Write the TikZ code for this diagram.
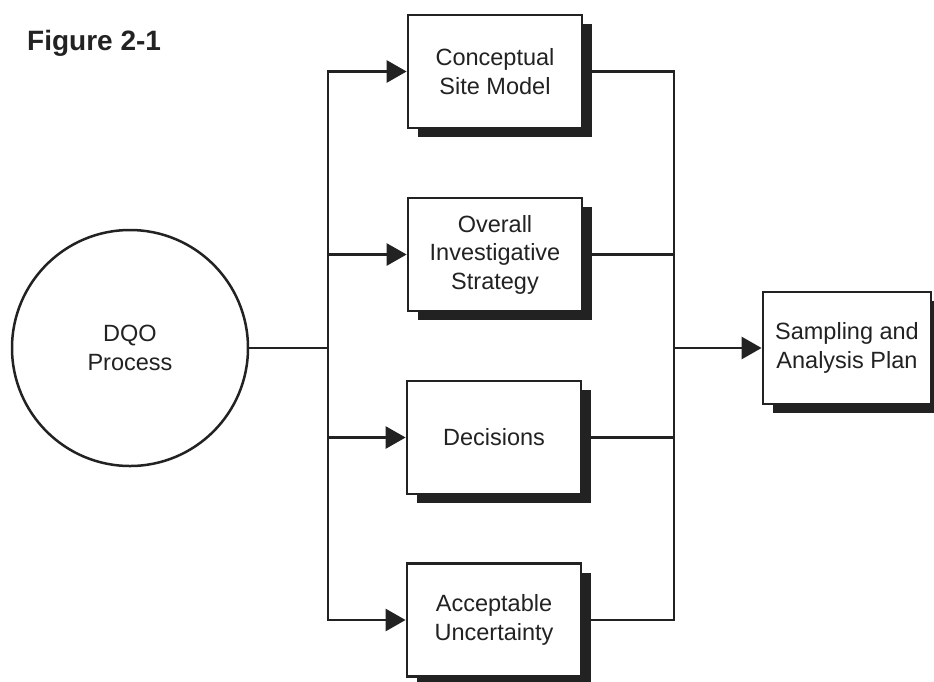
\documentclass[tikz,border=0pt]{standalone}
\usepackage{fontspec}
\setmainfont{Liberation Sans}
\usetikzlibrary{arrows.meta,shadows}
\definecolor{ink}{HTML}{222222}
\begin{document}
\begin{tikzpicture}[x=1pt,y=-1pt,
  every node/.style={text=ink},
  wire/.style={draw=ink,line width=2.8pt},
  feed/.style={wire,-{Triangle[length=20pt,width=22pt]}},
  boxtext/.style={align=center,font=\fontsize{23.5}{28.5}\selectfont},
  stage/.style={boxtext,draw=ink,fill=white,line width=2.8pt,
    minimum width=174pt,minimum height=113pt,inner sep=0pt,
    general shadow={fill=ink,shadow xshift=10pt,shadow yshift=-9pt}},
  plan/.style={stage,minimum width=168pt,minimum height=112pt}]

  \clip (0,0) rectangle (934,681);
  \fill[white] (0,0) rectangle (934,681);

  % title
  \node[anchor=base west,inner sep=0pt,font=\bfseries\fontsize{28}{30}\selectfont]
    (title) at (27,50) {Figure 2-1};

  % source
  \node[draw=ink,line width=2.5pt,circle,minimum size=236pt,inner sep=0pt,boxtext]
    (dqo) at (130,348) {DQO\\Process};

  % the four outputs of the process
  \node[stage] (csm) at (495,71.5)  {Conceptual\\Site Model};
  \node[stage] (ois) at (495,254.5) {Overall\\Investigative\\Strategy};
  \node[stage] (dec) at (494,437.5) {Decisions};
  \node[stage] (acc) at (494,620)   {Acceptable\\Uncertainty};

  % result
  \node[plan] (sap) at (847,348) {Sampling and\\Analysis Plan};

  % junctions of the two buses
  \coordinate (lj) at (328,348);
  \coordinate (rj) at (674,348);

  % fan-out
  \draw[wire] (dqo.east) -- (lj);
  \draw[feed] (lj) |- (csm.west);
  \draw[feed] (lj) |- (acc.west);
  \draw[feed] (ois.west -| lj) -- (ois.west);
  \draw[feed] (dec.west -| lj) -- (dec.west);

  % fan-in
  \draw[wire] (csm.east) -| (rj);
  \draw[wire] (acc.east) -| (rj);
  \draw[wire] (ois.east) -- (ois.east -| rj);
  \draw[wire] (dec.east) -- (dec.east -| rj);
  \draw[feed] (rj) -- (sap.west);
\end{tikzpicture}
\end{document}
